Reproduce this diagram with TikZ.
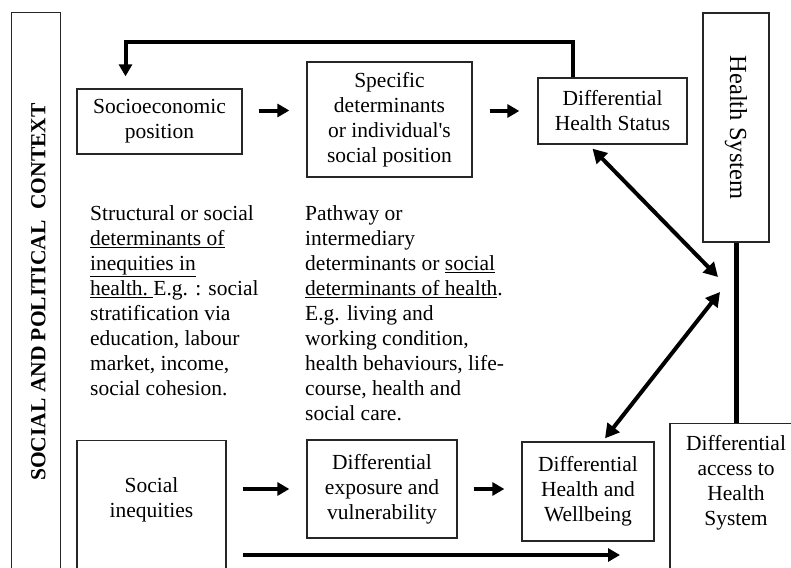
\documentclass[tikz,border=0pt]{standalone}
\usepackage{fontspec}
\setmainfont{Liberation Serif}
\usepackage{tikz}
\usetikzlibrary{arrows.meta, positioning}
\newcommand{\bodyfont}{\fontsize{21.5}{25}\selectfont}
\newcommand{\hsfont}{\fontsize{24.5}{28}\selectfont}
\newcommand{\ctxfont}{\fontsize{21.5}{25}\selectfont\bfseries}

\begin{document}
\begin{tikzpicture}[
  x=1pt, y=-1pt,
  box/.style    = {rectangle, draw=black!85, line width=1.3pt, fill=white,
                   align=center, inner sep=0pt, font=\bodyfont},
  boxlbl/.style = {inner sep=0pt, align=center, font=\bodyfont},
  txt/.style    = {inner sep=0pt, align=left, font=\bodyfont, anchor=north west},
  arr/.style    = {-{Triangle[length=12pt,width=13pt]}, line width=4pt},
  darr/.style   = {{Triangle[length=14pt,width=15pt]}-{Triangle[length=14pt,width=15pt]},
                   line width=4pt},
  hsline/.style = {line width=5pt},
]
\fill[white] (0,0) rectangle (791,567);
\useasboundingbox (0,0) rectangle (791,567);
\clip (0,0) rectangle (791,567);

%% --- Frames ---
\node[box, minimum width=49pt, minimum height=580pt, anchor=north west] (ctx) at (11,12) {};
\node[font=\ctxfont, inner sep=0pt, rotate=90] (ctxlbl) at (38.3,292) {SOCIAL AND POLITICAL\ \ CONTEXT};
\node[box, minimum width=66pt, minimum height=229pt] (hs) at (736,127.5) {};
\node[font=\hsfont, inner sep=0pt, rotate=-90] (hslbl) at (hs) {Health System};

%% --- Top row ---
\node[box, minimum width=165pt, minimum height=65pt]  (socio) at (159.5,121.5) {Socioeconomic\\position};
\node[box, minimum width=165pt, minimum height=115pt] (spec)  at (389.5,119.5) {Specific\\determinants\\or individual\textquotesingle s\\social position};
\node[box, minimum width=149pt, minimum height=66pt]  (dhs)   at (612.5,111)   {Differential\\Health Status};

%% --- Middle texts ---
\node[txt] (struct) at (90,205) {Structural or social\\
  \underline{determinants of}\\
  \underline{inequities in}\\
  \underline{health.\ }E.g. : social\\
  stratification via\\
  education, labour\\
  market, income,\\
  social cohesion.};
\node[txt] (path) at (305,205) {Pathway or\\
  intermediary\\
  determinants or \underline{social}\\
  \underline{determinants of health}.\\
  E.g. living and\\
  working condition,\\
  health behaviours, life-\\
  course, health and\\
  social care.};

%% --- Bottom row ---
\node[box, minimum width=149pt, minimum height=160pt, anchor=north] (socineq) at (151.5,440) {};
\node[boxlbl, below=37pt of socineq.north] (socineqlbl) {Social\\inequities};
\node[box, minimum width=150pt, minimum height=98pt] (expo) at (382,489)  {Differential\\exposure and\\vulnerability};
\node[box, minimum width=132pt, minimum height=99pt] (wb)   at (588,491.5) {Differential\\Health and\\Wellbeing};
\node[box, minimum width=132pt, minimum height=170pt, anchor=north] (access) at (736,423) {};
\node[boxlbl, below=12pt of access.north] (accesslbl) {Differential\\access to\\Health\\System};

%% --- Arrows ---
\coordinate (hubA)   at (718,277);
\coordinate (hubB)   at (720,292);
\coordinate (botend) at (620,555);

\draw[arr, shorten <=16pt, shorten >=17pt] ([yshift=11pt]socio.east) -- ([yshift=11pt]socio.east -| spec.west);
\draw[arr, shorten <=17pt, shorten >=18pt] (spec.east |- dhs) -- (dhs.west);
\draw[arr, shorten <=16pt, shorten >=17pt] (socineq.east |- expo) -- (expo.west);
\draw[arr, shorten <=16pt, shorten >=17pt] (expo.east) -- (expo.east -| wb.west);
\draw[arr, shorten <=16pt] (socineq.east |- botend) -- (botend);
\draw[arr] ([xshift=-40pt]dhs.north) |- ([xshift=-34pt,yshift=46pt]socio.north)
           -- ([xshift=-34pt,yshift=12pt]socio.north);

\draw[darr] ([xshift=-20pt,yshift=-4pt]dhs.south) -- (hubA);
\draw[darr] (hubB) -- ([xshift=17pt,yshift=3pt]wb.north);
\draw[hsline] (hs) -- (access);

\end{tikzpicture}
\end{document}
